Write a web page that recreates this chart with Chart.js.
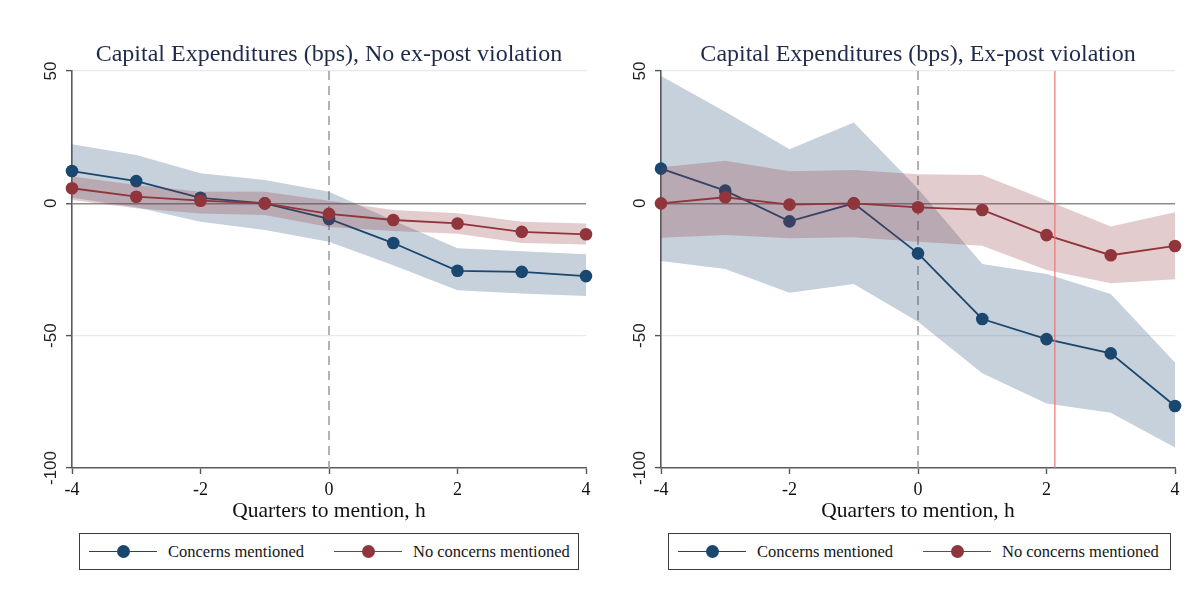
<!DOCTYPE html>
<html>
<head>
<meta charset="utf-8">
<title>Capital Expenditures around mentions</title>
<script src="https://cdn.jsdelivr.net/npm/chart.js@4.4.1/dist/chart.umd.min.js"></script>
<style>
  html, body { margin: 0; padding: 0; background: #fff; }
  #wrap { position: relative; width: 1203px; height: 604px; overflow: hidden; background: #fff; }
  canvas.panel { position: absolute; top: 0; }
  .legend {
    position: absolute; top: 533px; height: 37px; box-sizing: border-box;
    border: 1px solid #3c3c3c; background: #fff;
    font-family: "Liberation Serif", "Times New Roman", serif; font-size: 16.5px; color: #151515;
  }
  .item { position: absolute; top: 0; height: 100%; display: flex; align-items: center; white-space: nowrap; }
  .sample { position: relative; width: 68px; height: 1.6px; margin-right: 11px; }
  .dot { position: absolute; left: 28px; top: -5.7px; width: 13px; height: 13px; border-radius: 50%; }
</style>
</head>
<body>
<div id="wrap">
  <canvas id="left" class="panel" width="600" height="604" style="left:0px"></canvas>
  <canvas id="right" class="panel" width="603" height="604" style="left:600px"></canvas>
</div>
<script>
// ---- data -------------------------------------------------------------
const quarters = [-4, -3, -2, -1, 0, 1, 2, 3, 4];
const seriesLabels = ['Concerns mentioned', 'No concerns mentioned'];
const panelTitles = [
  'Capital Expenditures (bps), No ex-post violation',
  'Capital Expenditures (bps), Ex-post violation'
];
const xAxisTitle = 'Quarters to mention, h';

// No ex-post violation
const noViolConcerns     = [12.2, 8.4, 2.1, 0, -5.9, -15.0, -25.5, -25.9, -27.5];
const noViolConcernsHi   = [22.3, 18.3, 11.4, 8.8, 4.4, -6.5, -17.0, -18.1, -19.2];
const noViolConcernsLo   = [2.1, -1.5, -7.0, -10.1, -14.5, -23.4, -32.8, -34.1, -35.0];
const noViolNoConcerns   = [5.7, 2.5, 1.0, 0, -4.0, -6.3, -7.6, -10.8, -11.7];
const noViolNoConcernsHi = [10.1, 6.9, 4.4, 4.4, 1.0, -2.5, -3.7, -7.0, -7.6];
const noViolNoConcernsLo = [1.3, -1.9, -3.8, -4.4, -8.9, -10.5, -11.5, -15.0, -15.6];

// Ex-post violation
const violConcerns     = [13.1, 4.8, -6.8, 0, -18.9, -43.7, -51.3, -56.7, -76.6];
const violConcernsHi   = [48.1, 34.6, 20.4, 30.5, 5.5, -22.9, -26.7, -34.3, -60.1];
const violConcernsLo   = [-21.8, -24.8, -33.8, -30.5, -44.7, -64.2, -75.6, -79.1, -92.3];
const violNoConcerns   = [0, 2.3, -0.5, 0, -1.5, -2.5, -12.0, -19.6, -16.1];
const violNoConcernsHi = [13.6, 16.1, 12.1, 12.6, 11.0, 10.7, 1.2, -8.8, -3.4];
const violNoConcernsLo = [-13.0, -12.0, -13.2, -12.8, -14.5, -16.0, -25.2, -30.2, -28.7];

// timing of the violation marker in the second panel (quarters)
const violationQuarter = 2.13;

// ---- styling ------------------------------------------------------------
const NAVY = '#1a476f';
const MAROON = '#90353b';
const NAVY_BAND = 'rgba(26,71,111,0.25)';
const MAROON_BAND = 'rgba(144,53,59,0.25)';
const SERIF = '"Liberation Serif", "Times New Roman", serif';
const SANS = '"Liberation Sans", Arial, sans-serif';

const toPoints = arr => quarters.map((q, i) => ({ x: q, y: arr[i] }));

function buildDatasets(cHi, cLo, c, nHi, nLo, n) {
  const edge = (arr, ord) => ({ data: toPoints(arr), borderWidth: 0, pointRadius: 0, fill: false, order: ord, label: '' });
  const main = (arr, color, label, ord) => ({
    label, data: toPoints(arr), borderColor: color, backgroundColor: color,
    borderWidth: 1.8, pointRadius: 6.3, pointHoverRadius: 6.3, pointBorderWidth: 0,
    pointBackgroundColor: color, fill: false, clip: false, order: ord
  });
  return [
    edge(cHi, 6),
    Object.assign(edge(cLo, 5), { fill: '-1', backgroundColor: NAVY_BAND }),
    main(c, NAVY, seriesLabels[0], 4),
    edge(nHi, 3),
    Object.assign(edge(nLo, 2), { fill: '-1', backgroundColor: MAROON_BAND }),
    main(n, MAROON, seriesLabels[1], 1)
  ];
}

// dashed line at the mention quarter, plus optional violation line
const referenceLines = {
  id: 'referenceLines',
  beforeDatasetsDraw(chart) {
    const { ctx, chartArea, scales } = chart;
    const x0 = scales.x.getPixelForValue(0);
    ctx.save();
    ctx.strokeStyle = '#9b9b9b';
    ctx.lineWidth = 1.5;
    ctx.setLineDash([9, 6]);
    ctx.beginPath();
    ctx.moveTo(x0, chartArea.top);
    ctx.lineTo(x0, chartArea.bottom);
    ctx.stroke();
    ctx.restore();
  },
  afterDatasetsDraw(chart, args, opts) {
    if (opts.marker === undefined || opts.marker === null) return;
    const { ctx, chartArea, scales } = chart;
    const xv = scales.x.getPixelForValue(opts.marker);
    ctx.save();
    ctx.strokeStyle = 'rgba(238,115,115,0.8)';
    ctx.lineWidth = 1.5;
    ctx.beginPath();
    ctx.moveTo(xv, chartArea.top);
    ctx.lineTo(xv, chartArea.bottom);
    ctx.stroke();
    ctx.restore();
  }
};

// panel heading, centred over the plotting area
const panelTitle = {
  id: 'panelTitle',
  afterDraw(chart, args, opts) {
    const { ctx, chartArea } = chart;
    ctx.save();
    ctx.font = '24px ' + SERIF;
    ctx.fillStyle = '#1e2a4c';
    ctx.textAlign = 'center';
    ctx.textBaseline = 'middle';
    ctx.fillText(opts.text, (chartArea.left + chartArea.right) / 2, 55);
    ctx.restore();
  }
};

// vertical (rotated) labels on the y axis
const rotatedYLabels = {
  id: 'rotatedYLabels',
  afterDraw(chart) {
    const { ctx, chartArea } = chart;
    const y = chart.scales.y;
    ctx.save();
    ctx.font = '17px ' + SANS;
    ctx.fillStyle = '#222';
    ctx.textAlign = 'center';
    ctx.textBaseline = 'middle';
    y.ticks.forEach(t => {
      const py = y.getPixelForValue(t.value);
      ctx.save();
      ctx.translate(chartArea.left - 21, py);
      ctx.rotate(-Math.PI / 2);
      ctx.fillText(String(t.value), 0, 0);
      ctx.restore();
    });
    ctx.restore();
  }
};

function makePanel(canvasId, title, datasets, pad, marker) {
  return new Chart(document.getElementById(canvasId), {
    type: 'line',
    data: { datasets },
    options: {
      responsive: false,
      animation: false,
      events: [],
      layout: { padding: { left: pad.left, right: pad.right, top: 71, bottom: 76 } },
      plugins: {
        legend: { display: false },
        tooltip: { enabled: false },
        title: { display: false },
        panelTitle: { text: title },
        referenceLines: { marker }
      },
      scales: {
        x: {
          type: 'linear', min: -4, max: 4,
          ticks: { stepSize: 2, color: '#111', padding: 5, font: { family: SERIF, size: 18 } },
          grid: { drawOnChartArea: false, drawTicks: true, tickLength: 6, tickColor: '#555', tickWidth: 1.4 },
          border: { color: '#5a5a5a', width: 1.6 },
          title: { display: true, text: xAxisTitle, color: '#111', font: { family: SERIF, size: 21.5 }, padding: { top: 0, bottom: 4 } },
          afterFit(scale) { scale.height = 60; }
        },
        y: {
          type: 'linear', min: -100, max: 50,
          ticks: { display: false, stepSize: 50 },
          grid: {
            drawTicks: true, tickLength: 6, tickColor: '#555', tickWidth: 1.4,
            color: c => c.tick.value === 0 ? '#8c8c8c' : (c.tick.value === -100 ? 'rgba(0,0,0,0)' : '#e2ecee'),
            lineWidth: c => c.tick.value === 0 ? 1.5 : 1.2
          },
          border: { color: '#5a5a5a', width: 1.6 },
          afterFit(scale) { scale.width = pad.axis; }
        }
      }
    },
    plugins: [referenceLines, rotatedYLabels, panelTitle]
  });
}

const leftChart = makePanel('left', panelTitles[0],
  buildDatasets(noViolConcernsHi, noViolConcernsLo, noViolConcerns, noViolNoConcernsHi, noViolNoConcernsLo, noViolNoConcerns),
  { left: 10, axis: 62, right: 14 }, null);

const rightChart = makePanel('right', panelTitles[1],
  buildDatasets(violConcernsHi, violConcernsLo, violConcerns, violNoConcernsHi, violNoConcernsLo, violNoConcerns),
  { left: 10, axis: 51, right: 28 }, violationQuarter);

// legends under each panel, built from the series drawn in the chart
function addLegend(chart, left, width) {
  const box = document.createElement('div');
  box.className = 'legend';
  box.style.left = left + 'px';
  box.style.width = width + 'px';
  const mains = chart.data.datasets.filter(d => d.label);
  mains.forEach((d, i) => {
    const item = document.createElement('div');
    item.className = 'item';
    item.style.left = (9 + i * 245) + 'px';
    const sample = document.createElement('div');
    sample.className = 'sample';
    sample.style.background = d.borderColor;
    const dot = document.createElement('div');
    dot.className = 'dot';
    dot.style.background = d.borderColor;
    sample.appendChild(dot);
    const txt = document.createElement('span');
    txt.textContent = d.label;
    item.appendChild(sample);
    item.appendChild(txt);
    box.appendChild(item);
  });
  document.getElementById('wrap').appendChild(box);
}
addLegend(leftChart, 79, 500);
addLegend(rightChart, 668, 503);
</script>
</body>
</html>
